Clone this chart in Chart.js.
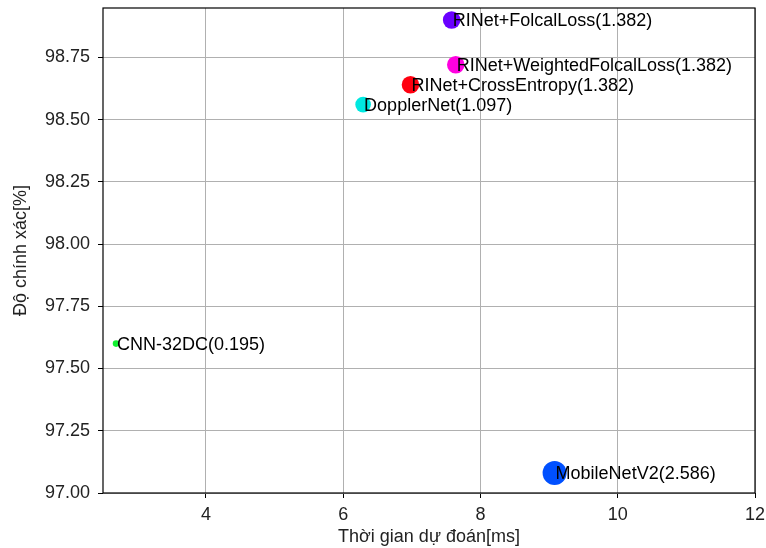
<!DOCTYPE html>
<html>
<head>
<meta charset="utf-8">
<script src="https://cdn.jsdelivr.net/npm/chart.js@4.4.1/dist/chart.umd.min.js"></script>
<style>
  html, body { margin: 0; padding: 0; background: #fff; }
  #wrap { width: 766px; height: 548px; }
</style>
</head>
<body>
<div id="wrap"><canvas id="c" width="766" height="548"></canvas></div>
<script>
// models, inference time (ms), accuracy (%), params (M)
const models = ['CNN-32DC', 'DopplerNet', 'RINet+CrossEntropy', 'RINet+FolcalLoss', 'RINet+WeightedFolcalLoss', 'MobileNetV2'];
const timesMs = [2.69, 6.29, 6.98, 7.58, 7.64, 9.08];
const accuracy = [97.60, 98.56, 98.64, 98.90, 98.72, 97.08];
const params = [0.195, 1.097, 1.382, 1.382, 1.382, 2.586];
const colors = ['#10f030', '#00e8e0', '#ff0010', '#6a00ff', '#ff00e0', '#0050ff'];
const xTicks = [4, 6, 8, 10, 12];
const yTicks = [97.00, 97.25, 97.50, 97.75, 98.00, 98.25, 98.50, 98.75];

const FONT = '"Liberation Sans", Arial, sans-serif';
Chart.defaults.font.family = FONT;
Chart.defaults.color = '#222';

const points = models.map((m, i) => ({ x: timesMs[i], y: accuracy[i] }));
const radii = params.map(p => 12 * Math.sqrt(p / 2.586));

const labelPlugin = {
  id: 'pointLabels',
  afterDatasetsDraw(chart) {
    const ctx = chart.ctx;
    const meta = chart.getDatasetMeta(0);
    ctx.save();
    ctx.font = '18px ' + FONT;
    ctx.fillStyle = '#000';
    ctx.textBaseline = 'middle';
    ctx.textAlign = 'left';
    meta.data.forEach((el, i) => {
      ctx.fillText(models[i] + '(' + params[i].toFixed(3) + ')', el.x + 1, el.y + 1);
    });
    ctx.restore();
  }
};

const framePlugin = {
  id: 'frame',
  afterDraw(chart) {
    const a = chart.chartArea, ctx = chart.ctx;
    ctx.save();
    ctx.strokeStyle = '#000';
    ctx.lineWidth = 1.2;
    ctx.strokeRect(a.left, a.top, a.right - a.left, a.bottom - a.top);
    ctx.restore();
  }
};

new Chart(document.getElementById('c'), {
  type: 'scatter',
  data: {
    datasets: [{
      data: points,
      pointRadius: radii,
      pointHoverRadius: radii,
      pointBackgroundColor: colors,
      pointBorderWidth: 0,
      borderWidth: 0,
      clip: false
    }]
  },
  options: {
    responsive: false,
    animation: false,
    layout: { autoPadding: false, padding: { top: 8, right: 11, left: 0, bottom: 0 } },
    plugins: { legend: { display: false }, tooltip: { enabled: false } },
    scales: {
      x: {
        type: 'linear', min: 2.5, max: 12,
        afterBuildTicks: s => { s.ticks = xTicks.map(v => ({ value: v })); },
        afterFit: s => { s.height = 55; s.paddingLeft = 0; s.paddingRight = 0; },
        grid: { color: '#b0b0b0', tickColor: '#000', tickLength: 5, lineWidth: 1 },
        border: { display: false },
        ticks: { font: { size: 18 }, color: '#222', padding: 6, maxRotation: 0, callback: v => String(v) },
        title: { display: true, text: 'Thời gian dự đoán[ms]', font: { size: 18 }, color: '#222', padding: { top: 0, bottom: 0 } }
      },
      y: {
        type: 'linear', min: 97.0, max: 98.948,
        afterBuildTicks: s => { s.ticks = yTicks.map(v => ({ value: v })); },
        afterFit: s => { s.width = 103; s.paddingTop = 0; s.paddingBottom = 0; },
        grid: { color: '#b0b0b0', tickColor: '#000', tickLength: 5, lineWidth: 1 },
        border: { display: false },
        ticks: { font: { size: 18 }, color: '#222', padding: 8, callback: v => v.toFixed(2) },
        title: { display: true, text: 'Độ chính xác[%]', font: { size: 18 }, color: '#222', padding: { top: 10, bottom: 6 } }
      }
    }
  },
  plugins: [labelPlugin, framePlugin]
});
</script>
</body>
</html>
